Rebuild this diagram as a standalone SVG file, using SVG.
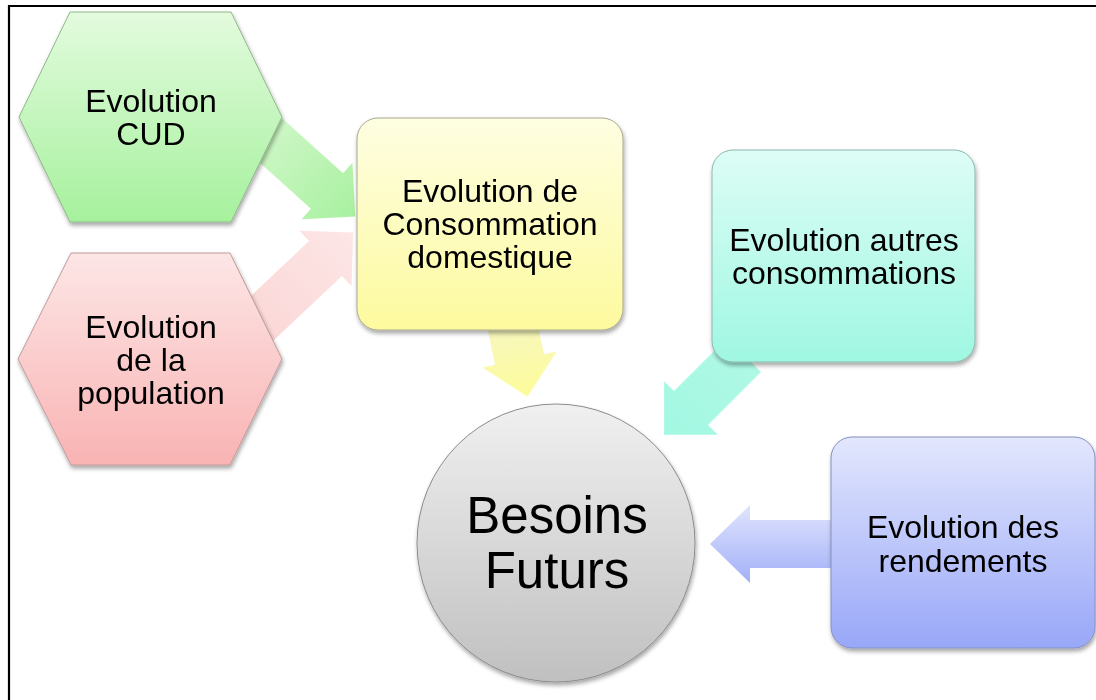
<svg xmlns="http://www.w3.org/2000/svg" width="1096" height="700" viewBox="0 0 1096 700">
<style>
text{font-family:"Liberation Sans",Arial,sans-serif;fill:#000;text-anchor:middle}
.s{font-size:32px}
.b{font-size:51px}
.node{filter:url(#sh)}
</style>
<defs>
<filter id="sh" x="-10%" y="-10%" width="125%" height="130%">
<feDropShadow dx="1" dy="3" stdDeviation="2.2" flood-color="#000" flood-opacity="0.35"/>
</filter>
<linearGradient id="gG" x1="0" y1="0" x2="0" y2="1"><stop offset="0" stop-color="#e3fbde"/><stop offset="1" stop-color="#a6f19d"/></linearGradient>
<linearGradient id="gP" x1="0" y1="0" x2="0" y2="1"><stop offset="0" stop-color="#fde6e6"/><stop offset="1" stop-color="#f9b3b3"/></linearGradient>
<linearGradient id="gY" x1="0" y1="0" x2="0" y2="1"><stop offset="0" stop-color="#fefee2"/><stop offset="1" stop-color="#fdfa9e"/></linearGradient>
<linearGradient id="gT" x1="0" y1="0" x2="0" y2="1"><stop offset="0" stop-color="#ddfdf6"/><stop offset="1" stop-color="#9ff7e2"/></linearGradient>
<linearGradient id="gB" x1="0" y1="0" x2="0" y2="1"><stop offset="0" stop-color="#e3e7fd"/><stop offset="1" stop-color="#98a7f8"/></linearGradient>
<linearGradient id="gC" x1="0" y1="0" x2="0" y2="1"><stop offset="0" stop-color="#f0f0f0"/><stop offset="1" stop-color="#c0c0c0"/></linearGradient>
<linearGradient id="aG" x1="0" y1="0" x2="1" y2="0"><stop offset="0" stop-color="#d6f8ce"/><stop offset="1" stop-color="#a8f1a0"/></linearGradient>
<linearGradient id="aP" x1="0" y1="0" x2="1" y2="0"><stop offset="0" stop-color="#fbd6d6"/><stop offset="1" stop-color="#fde6e6"/></linearGradient>
<linearGradient id="aY" x1="0" y1="0" x2="1" y2="0"><stop offset="0" stop-color="#f6f6c6"/><stop offset="1" stop-color="#fdfc9a"/></linearGradient>
<linearGradient id="aT" x1="0" y1="0" x2="1" y2="0"><stop offset="0" stop-color="#aff8e6"/><stop offset="1" stop-color="#a2f8e2"/></linearGradient>
<linearGradient id="aB" x1="0" y1="1" x2="0" y2="0"><stop offset="0" stop-color="#e0e4fd"/><stop offset="1" stop-color="#a2b0f8"/></linearGradient>
</defs>
<rect width="1096" height="700" fill="#fff"/>
<path d="M9,700 V6 H1096" fill="none" stroke="#000" stroke-width="2.2"/>

<g id="connectors">
<path fill="url(#aG)" transform="translate(327,191) rotate(42)" d="M-110,-24 L0,-24 L0,-38 L38,0 L0,38 L0,24 L-110,24 Z"/>
<path fill="url(#aP)" transform="translate(325.5,258.5) rotate(-43.3)" d="M-110,-24 L0,-24 L0,-38 L38,0 L0,38 L0,24 L-110,24 Z"/>
<path fill="url(#aY)" transform="translate(519.5,359.5) rotate(78)" d="M-50,-25 L0,-25 L0,-38 L38,0 L0,38 L0,25 L-50,25 Z"/>
<path fill="url(#aT)" transform="translate(691,408) rotate(135)" d="M-75,-24 L0,-24 L0,-38 L38,0 L0,38 L0,24 L-75,24 Z"/>
<path fill="url(#aB)" transform="translate(750,544) rotate(180)" d="M-85,-24 L0,-24 L0,-39 L40,0 L0,39 L0,24 L-85,24 Z"/>
</g>

<g id="cud" class="node">
<polygon points="19,117 70,12 231,12 282,117 231,222 70,222" fill="url(#gG)" stroke="#8fb88a" stroke-width="1"/>
<text class="s" x="151" y="112">Evolution</text>
<text class="s" x="151" y="145">CUD</text>
</g>

<g id="population" class="node">
<polygon points="18,359 71,253 230,253 282,359 230,465 71,465" fill="url(#gP)" stroke="#c09a9a" stroke-width="1"/>
<text class="s" x="151" y="338">Evolution</text>
<text class="s" x="151" y="371">de la</text>
<text class="s" x="151" y="404">population</text>
</g>

<g id="domestique" class="node">
<rect x="357" y="118" width="266" height="212" rx="21" fill="url(#gY)" stroke="#a8a890" stroke-width="1"/>
<text class="s" x="490" y="202">Evolution de</text>
<text class="s" x="490" y="235">Consommation</text>
<text class="s" x="490" y="268">domestique</text>
</g>

<g id="autres" class="node">
<rect x="712" y="150" width="263" height="212" rx="21" fill="url(#gT)" stroke="#8cb8ae" stroke-width="1"/>
<text class="s" x="844" y="251">Evolution autres</text>
<text class="s" x="844" y="284">consommations</text>
</g>

<g id="rendements" class="node">
<rect x="831" y="437" width="264" height="211" rx="21" fill="url(#gB)" stroke="#8590c0" stroke-width="1"/>
<text class="s" x="963" y="538">Evolution des</text>
<text class="s" x="963" y="572">rendements</text>
</g>

<g id="besoins" class="node">
<circle cx="556" cy="543" r="139" fill="url(#gC)" stroke="#8c8c8c" stroke-width="1"/>
<text class="b" x="557" y="533">Besoins</text>
<text class="b" x="557" y="588">Futurs</text>
</g>
</svg>
